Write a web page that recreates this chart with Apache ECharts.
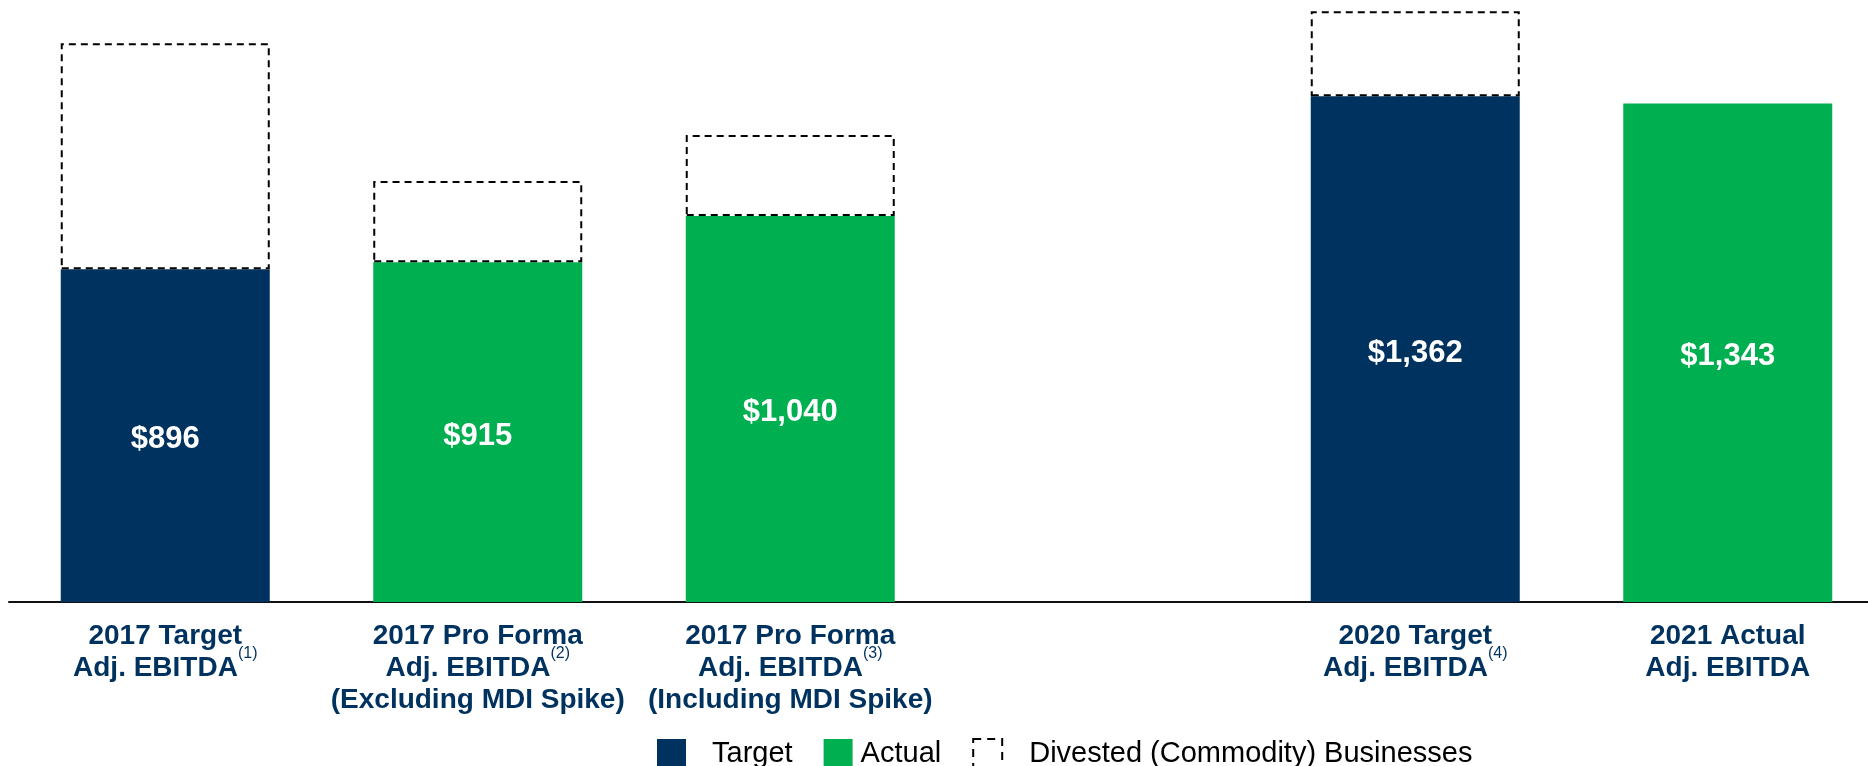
<!DOCTYPE html>
<html>
<head>
<meta charset="utf-8">
<style>
  html, body { margin: 0; padding: 0; background: #fff; }
  #chart { width: 1868px; height: 766px; }
</style>
<script src="https://cdn.jsdelivr.net/npm/echarts@6/dist/echarts.min.js"></script>
</head>
<body>
<div id="chart"></div>
<script>
// categories (4th slot is the empty gap between 2017 and 2020)
var categories = [
  '2017 Target\nAdj. EBITDA',
  '2017 Pro Forma\nAdj. EBITDA\n(Excluding MDI Spike)',
  '2017 Pro Forma\nAdj. EBITDA\n(Including MDI Spike)',
  '',
  '2020 Target\nAdj. EBITDA',
  '2021 Actual\nAdj. EBITDA'
];
var footnotes = ['(1)', '(2)', '(3)', '', '(4)', ''];

// $ millions
var targetValues   = [896, '-', '-', '-', 1362, '-'];
var actualValues   = ['-', 915, 1040, '-', '-', 1343];
var divestedValues = [609, 219, 218, '-', 229, '-'];

var NAVY = '#00325f';
var GREEN = '#00af50';
var FONT = '"Liberation Sans", Arial, sans-serif';

function money(v) {
  return '$' + Number(v).toLocaleString('en-US');
}

var valueLabel = {
  show: true,
  position: 'inside',
  offset: [0, 4],
  color: '#fff',
  fontFamily: FONT,
  fontWeight: 'bold',
  fontSize: 31,
  formatter: function (p) { return money(p.value); }
};

var chart = echarts.init(document.getElementById('chart'));

chart.setOption({
  animation: false,
  grid: { left: 9, top: 8, bottom: 164, width: 1875, outerBoundsMode: 'none' },
  legend: {
    left: 652,
    top: 733,
    itemWidth: 29,
    itemHeight: 29,
    itemGap: 31,
    icon: 'rect',
    textStyle: { fontFamily: FONT, fontSize: 29, color: '#000' },
    data: [
      { name: 'Target', textStyle: { padding: [0, 0, 0, 21] } },
      { name: 'Actual', textStyle: { padding: [0, 0, 0, 3] } },
      {
        name: 'Divested (Commodity) Businesses',
        textStyle: { padding: [0, 0, 0, 22] },
        itemStyle: { color: '#fff', borderColor: '#000', borderWidth: 2, borderType: [8, 6] }
      }
    ]
  },
  xAxis: {
    type: 'category',
    data: categories,
    axisTick: { show: false },
    axisLine: { lineStyle: { color: '#111', width: 2 } },
    axisLabel: {
      interval: 0,
      margin: 18,
      formatter: function (val, idx) {
        if (!val) return '';
        var lines = val.split('\n');
        return lines.map(function (l, i) {
          var s = '{b|' + l + '}';
          if (i === 1 && footnotes[idx]) s += '{s|' + footnotes[idx] + '}';
          return s;
        }).join('\n');
      },
      rich: {
        b: { fontFamily: FONT, fontWeight: 'bold', fontSize: 28, lineHeight: 32, color: NAVY },
        s: { fontFamily: FONT, fontSize: 16, lineHeight: 4, height: 4, color: NAVY, verticalAlign: 'top' }
      }
    }
  },
  yAxis: { type: 'value', min: 0, max: 1600, show: false },
  series: [
    {
      name: 'Target',
      type: 'bar',
      stack: 'ebitda',
      barWidth: 209,
      data: targetValues,
      itemStyle: { color: NAVY },
      label: valueLabel
    },
    {
      name: 'Actual',
      type: 'bar',
      stack: 'ebitda',
      barWidth: 209,
      data: actualValues,
      itemStyle: { color: GREEN },
      label: valueLabel
    },
    {
      name: 'Divested (Commodity) Businesses',
      type: 'bar',
      stack: 'ebitda',
      barWidth: 209,
      data: divestedValues,
      itemStyle: {
        color: 'rgba(255,255,255,0)',
        borderColor: '#000',
        borderWidth: 2,
        borderType: [7, 5]
      }
    }
  ]
});
</script>
</body>
</html>
